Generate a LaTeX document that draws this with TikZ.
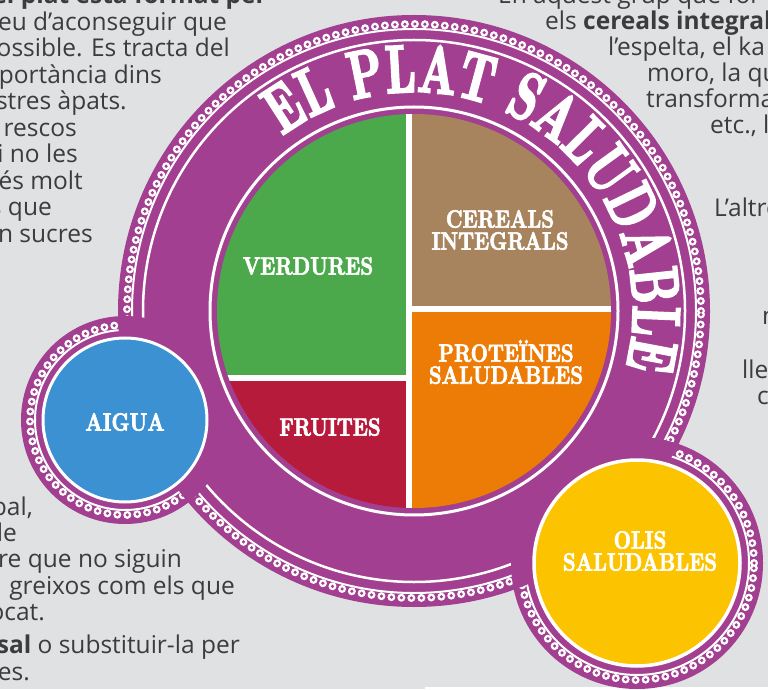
\documentclass[tikz,border=0pt]{standalone}
\usepackage{fontspec}
\setmainfont{Open Sans}
\newfontface\arcfont{lmroman10-bold.otf}[FakeStretch=0.64, FakeBold=3]
\newfontface\labfont{lmroman10-bold.otf}[FakeStretch=0.8, FakeBold=2.5]
\usetikzlibrary{decorations.text}
\definecolor{plum}{HTML}{A23F90}
\definecolor{leaf}{HTML}{4BA94B}
\definecolor{grain}{HTML}{A8845E}
\definecolor{tang}{HTML}{EC7C06}
\definecolor{berry}{HTML}{B61B3C}
\definecolor{water}{HTML}{3B91D1}
\definecolor{oil}{HTML}{FCC300}
\definecolor{paper}{HTML}{DFE1E3}
\definecolor{ink}{HTML}{3C3C3C}
\tikzset{
  body/.style={inner sep=0pt, text=ink, font=\fontsize{24.5}{26}\selectfont},
  bodybold/.style={body, font=\bfseries\fontsize{24.5}{26}\selectfont},
  food/.style={inner sep=0pt, text=white, align=center, font=\labfont\fontsize{25}{22}\selectfont},
}
% scalloped rim just inside a purple disk
\newcommand{\platelace}[2]{%
  \draw[white, line width=2pt] (#1) circle[radius=#2-14];
  \draw[white, line width=8pt, line cap=round, dash pattern=on 0pt off 10pt] (#1) circle[radius=#2-9];
  \draw[plum, line width=3.5pt, line cap=round, dash pattern=on 0pt off 10pt] (#1) circle[radius=#2-9];
}
\begin{document}
\begin{tikzpicture}[x=1pt, y=1pt]
\useasboundingbox (0,0) rectangle (768,689);
\clip (0,0) rectangle (768,689);
\fill[paper] (0,0) rectangle (768,689);
\fill[white] (425,0) rectangle (768,2.5);

% text left
\node[bodybold, anchor=base east] (l1) at (267,685) {del plat està format per};
\node[body, anchor=base east] (l2) at (227,658) {eu d’aconseguir que};
\node[body, anchor=base east] (l3) at (230,632) {ossible. Es tracta del};
\node[body, anchor=base east] (l4) at (162,605.5) {portància dins};
\node[body, anchor=base east] (l5) at (127,579) {stres àpats.};
\node[body, anchor=base east] (l6) at (77,552.5) {rescos};
\node[body, anchor=base east] (l7) at (78,526) {i no les};
\node[body, anchor=base east] (l8) at (83,499.5) {és molt};
\node[body, anchor=base east] (l9) at (52,473) {s que};
\node[body, anchor=base east] (l10) at (93,446.5) {n sucres};
\node[body, anchor=base east] (l11) at (33,174) {bal,};
\node[body, anchor=base east] (l12) at (17,148) {de};
\node[body, anchor=base east] (l13) at (182,122) {re que no siguin};
\node[body, anchor=base east] (l14) at (235,95) {greixos com els que};
\node[body, anchor=base east] (l15) at (45,69) {ocat.};
\node[body, anchor=base east] (l16) at (240,36) {\textbf{sal} o substituir-la per};
\node[body, anchor=base east] (l17) at (30,9) {es.};

% text right
\node[body, anchor=base west] (r1) at (498,685) {En aquest grup que for};
\node[body, anchor=base west] (r2) at (545,659) {els \textbf{cereals integral}};
\node[body, anchor=base west] (r3) at (608,633) {l’espelta, el ka};
\node[body, anchor=base west] (r4) at (647,607) {moro, la qu};
\node[body, anchor=base west] (r5) at (646,581) {transforma};
\node[body, anchor=base west] (r6) at (710,555) {etc., l};
\node[body, anchor=base west] (r7) at (714,472) {L’altre};
\node[body, anchor=base west] (r8) at (762,364) {n};
\node[body, anchor=base west] (r9) at (742,311) {lle};
\node[body, anchor=base west] (r10) at (757,285) {c};

% purple plate
\coordinate (mainc) at (414,378);
\coordinate (aiguac) at (125,269);
\coordinate (olisc) at (637,126);
\fill[plum] (mainc) circle[radius=296];
\fill[plum] (aiguac) circle[radius=104];
\fill[plum] (olisc) circle[radius=126];
\platelace{mainc}{296}
\platelace{aiguac}{104}
\platelace{olisc}{126}
\draw[white, line width=2.5pt] (mainc) circle[radius=271];
\begin{scope}
  \clip (mainc) circle[radius=296];
  \fill[plum] (aiguac) circle[radius=104];
  \fill[plum] (olisc) circle[radius=126];
\end{scope}

% title on the rim
\path[decorate, decoration={text along path, text align=center, text color=white,
  text={|\arcfont\fontsize{68}{68}\selectfont|EL PLAT SALUDABLE}}]
  (mainc) ++(180:219) arc[start angle=180, end angle=-68, radius=219];

% food quarters
\begin{scope}
  \clip (mainc) circle[radius=197];
  \fill[leaf] (200,311) rectangle (409,590);
  \fill[berry] (200,160) rectangle (409,311);
  \fill[grain] (409,380) rectangle (630,590);
  \fill[tang] (409,160) rectangle (630,380);
  \draw[white, line width=6pt] (409,160) -- (409,590);
  \draw[white, line width=6pt] (200,311) -- (409,311);
  \draw[white, line width=6pt] (409,380) -- (630,380);
\end{scope}
\draw[white, line width=3pt] (mainc) circle[radius=204];

% side dishes
\draw[white, line width=3pt, fill=water] (aiguac) circle[radius=82];
\draw[white, line width=3.5pt, fill=oil] (olisc) circle[radius=103];

\node[food] (verdures) at (308,423) {VERDURES};
\node[food] (cereals) at (500,459) {CEREALS\\INTEGRALS};
\node[food] (proteines) at (506,327) {PROTEÏNES\\SALUDABLES};
\node[food] (fruites) at (330,262) {FRUITES};
\node[food] (aigua) at (125,267) {AIGUA};
\node[food] (olis) at (640,138) {OLIS\\SALUDABLES};
\end{tikzpicture}
\end{document}
